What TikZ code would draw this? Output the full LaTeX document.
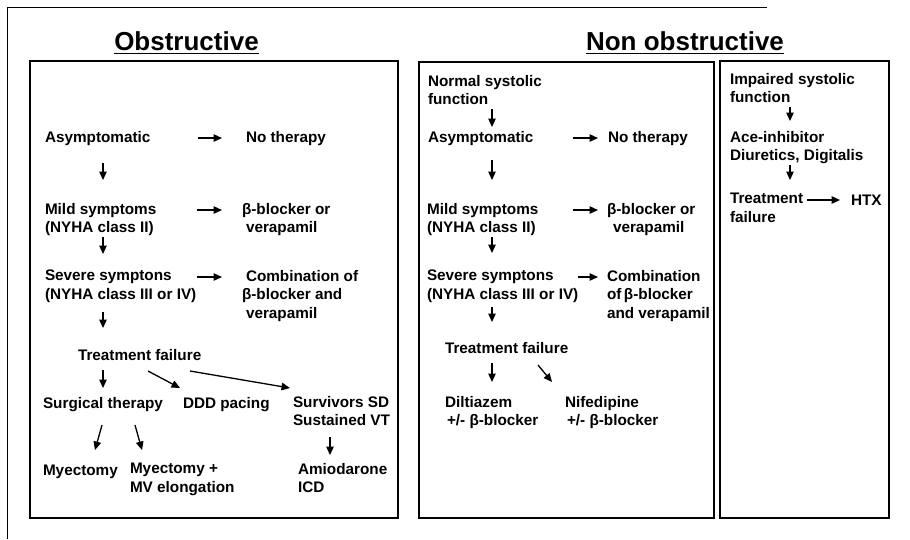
\documentclass[tikz,border=0pt]{standalone}
\usepackage{fontspec}
\setmainfont{Liberation Sans}
\usetikzlibrary{arrows.meta,calc}
\newcommand{\lstrut}{\rule[-4pt]{0pt}{16pt}}
\begin{document}
\begin{tikzpicture}[x=1pt,y=-1pt,
  every node/.style={inner sep=0pt, outer sep=0pt},
  txt/.style={anchor=north west, align=left, font=\bfseries\fontsize{15.3}{18.5}\selectfont,
    execute at begin node=\lstrut, execute at end node=\lstrut},
  ttl/.style={anchor=base, font=\bfseries\fontsize{26}{30}\selectfont},
  arr/.style={line width=1.3pt, -{Triangle[length=8.5pt,width=7.5pt]}},
  gap/.style 2 args={shorten <=#1, shorten >=#2},
  panel/.style={line width=1.3pt},
  frame/.style={line width=0.9pt}]
\useasboundingbox (0,0) rectangle (910,539);

% outer frame and panels
\draw[frame] (7,7) -- (767,7);
\draw[frame] (7,7) -- (7,539);
\draw[panel] (30,61) rectangle (398,518);
\draw[panel] (419,62) rectangle (714,518);
\draw[panel] (720,61) rectangle (889,518);

% titles
\node[ttl] (t1) at (186.5,50) {Obstructive};
\node[ttl] (t2) at (685,50) {Non obstructive};
\draw[line width=1.6pt] ([shift={(0,3.5)}]t1.base west) -- ([shift={(0,3.5)}]t1.base east);
\draw[line width=1.6pt] ([shift={(0,3.5)}]t2.base west) -- ([shift={(0,3.5)}]t2.base east);

% columns for vertical arrows
\coordinate (cL) at (103,0);
\coordinate (cS) at (330,0);
\coordinate (cM) at (492,0);
\coordinate (cR) at (790,0);

% ---------------- Obstructive ----------------
\node[txt] (asym) at (45,130) {Asymptomatic};
\node[txt] (nother) at (246,130) {No therapy};
\node[txt] (mild) at (45,203) {Mild symptoms\\(NYHA class II)};
\node[txt] (beta) at (242,203) {β-blocker or\\\hspace{4pt}verapamil};
\node[txt] (sev) at (45,270) {Severe symptons\\(NYHA class III or IV)};
\node[txt] (comb) at (242,270) {\hspace{4pt}Combination of\\β-blocker and\\\hspace{4pt}verapamil};
\node[txt] (tf) at (78,348) {Treatment failure};
\node[txt] (surg) at (43,396) {Surgical therapy};
\node[txt] (ddd) at (183,396) {DDD pacing};
\node[txt] (surv) at (293,396) {Survivors SD\\Sustained VT};
\node[txt] (myec) at (43,463) {Myectomy};
\node[txt] (myec2) at (130,463) {Myectomy +\\MV elongation};
\node[txt] (amio) at (298,463) {Amiodarone\\ICD};

\draw[arr,gap={47.6pt}{24pt}] (asym.east) -- (nother.west);
\draw[arr,gap={40.6pt}{20pt}] ([shift={(0,7)}]mild.north east) -- ([shift={(0,7)}]beta.north west);
\draw[arr,gap={0.7pt}{20pt}] ([shift={(0,7)}]sev.north east) -- ([shift={(0,7)}]comb.north west);
\draw[arr,gap={17pt}{23pt}] (cL |- asym.south) -- (cL |- mild.north);
\draw[arr,gap={0pt}{16pt}] (cL |- mild.south) -- (cL |- sev.north);
\draw[arr,gap={8.5pt}{20pt}] (cL |- sev.south) -- (cL |- tf.north);
\draw[arr,gap={6pt}{8pt}] (cL |- tf.south) -- (cL |- surg.north);
\draw[arr] ([shift={(70,7)}]tf.south west) -- ([shift={(-3,-8)}]ddd.north west);
\draw[arr] ([shift={(112,7)}]tf.south west) -- ([shift={(-3,-8)}]surv.north west);
\draw[arr] ([shift={(59,13)}]surg.south west) -- ([shift={(52,-13)}]myec.north west);
\draw[arr] ([shift={(92,13)}]surg.south west) -- ([shift={(12,-13)}]myec2.north west);
\draw[arr,gap={7.5pt}{8pt}] (cS |- surv.south) -- (cS |- amio.north);

% ---------------- Non obstructive: normal systolic ----------------
\node[txt] (norm) at (428,75) {Normal systolic\\function};
\node[txt] (asymB) at (428,130) {Asymptomatic};
\node[txt] (notherB) at (608,130) {No therapy};
\node[txt] (mildB) at (427,203) {Mild symptoms\\(NYHA class II)};
\node[txt] (betaB) at (607,203) {β-blocker or\\\hspace{6pt}verapamil};
\node[txt] (sevB) at (427,270) {Severe symptons\\(NYHA class III or IV)};
\node[txt] (combB) at (607,270) {Combination\\of\,β-blocker\\and verapamil};
\node[txt] (tfB) at (445,341) {Treatment failure};
\node[txt] (dil) at (445,396) {Diltiazem\\\hspace{2pt}+/- β-blocker};
\node[txt] (nif) at (565,396) {Nifedipine\\\hspace{2pt}+/- β-blocker};

\draw[arr,gap={0.5pt}{3pt}] (cM |- norm.south) -- (cM |- asymB.north);
\draw[arr,gap={39.6pt}{10pt}] (asymB.east) -- (notherB.west);
\draw[arr,gap={14pt}{23pt}] (cM |- asymB.south) -- (cM |- mildB.north);
\draw[arr,gap={34.6pt}{9pt}] ([shift={(0,7)}]mildB.north east) -- ([shift={(0,7)}]betaB.north west);
\draw[arr,gap={0pt}{17pt}] (cM |- mildB.south) -- (cM |- sevB.north);
\draw[arr,gap={0pt}{9pt}] ([shift={(0,7)}]sevB.north east) -- ([shift={(0,7)}]combB.north west);
\draw[arr,gap={3.5pt}{19pt}] (cM |- sevB.south) -- (cM |- tfB.north);
\draw[arr,gap={6pt}{14pt}] (cM |- tfB.south) -- (cM |- dil.north);
\draw[arr] ([shift={(93,8)}]tfB.south west) -- ([shift={(-13,-14)}]nif.north west);

% ---------------- Non obstructive: impaired systolic ----------------
\node[txt] (imp) at (730,73) {Impaired systolic\\function};
\node[txt] (ace) at (730,131) {Ace-inhibitor\\Diuretics, Digitalis};
\node[txt] (trR) at (730,193) {Treatment\\failure};
\node[txt] (htx) at (851,193) {HTX};

\draw[arr,gap={0pt}{10pt}] (cR |- imp.south) -- (cR |- ace.north);
\draw[arr,gap={0pt}{13pt}] (cR |- ace.south) -- (cR |- trR.north);
\draw[arr,gap={4pt}{11pt}] ([shift={(0,7)}]trR.north east) -- ([shift={(0,7)}]htx.north west);
\end{tikzpicture}
\end{document}
